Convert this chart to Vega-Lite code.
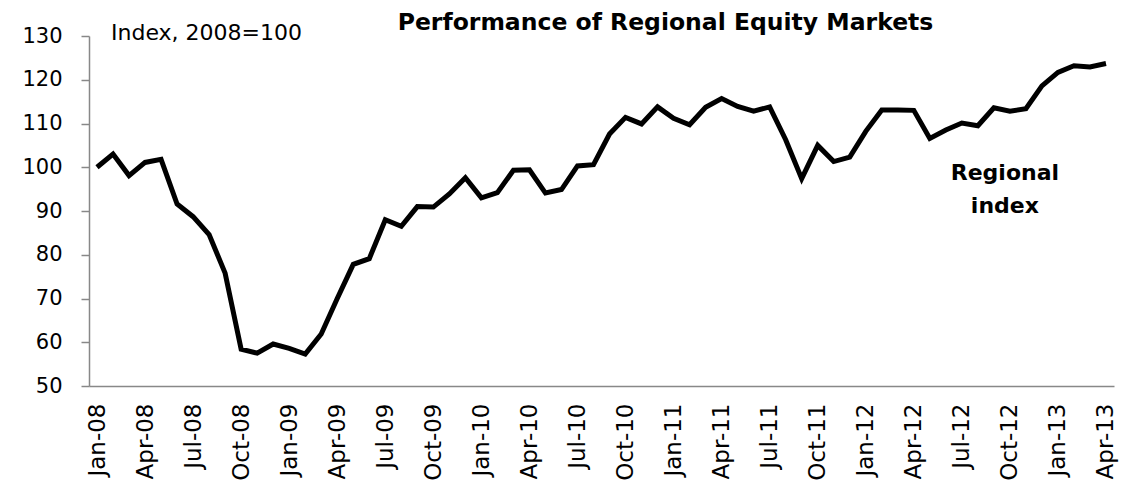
{
  "$schema": "https://vega.github.io/schema/vega-lite/v6.json",
  "width": 1025,
  "height": 350,
  "autosize": {"type": "none"},
  "padding": {"left": 89, "top": 36, "right": 21, "bottom": 101},
  "background": "white",
  "config": {
    "view": {"stroke": null},
    "font": "DejaVu Sans",
    "axis": {
      "labelFont": "DejaVu Sans",
      "labelFontSize": 21,
      "labelColor": "black",
      "domainColor": "#888888",
      "domainWidth": 1.5,
      "tickColor": "#888888",
      "tickWidth": 1.5,
      "grid": false,
      "title": null
    }
  },
  "title": {
    "text": "Performance of Regional Equity Markets",
    "anchor": "middle",
    "dx": 64,
    "dy": 12,
    "offset": 0,
    "font": "DejaVu Sans",
    "fontSize": 23.5,
    "fontWeight": "bold",
    "color": "black"
  },
  "data": {
    "values": [
      {"month": "Jan-08", "index": 100.0},
      {"month": "Feb-08", "index": 103.0},
      {"month": "Mar-08", "index": 98.1},
      {"month": "Apr-08", "index": 101.1},
      {"month": "May-08", "index": 101.8},
      {"month": "Jun-08", "index": 91.6},
      {"month": "Jul-08", "index": 88.7},
      {"month": "Aug-08", "index": 84.6},
      {"month": "Sep-08", "index": 75.8},
      {"month": "Oct-08", "index": 58.4},
      {"month": "Nov-08", "index": 57.5},
      {"month": "Dec-08", "index": 59.6},
      {"month": "Jan-09", "index": 58.6},
      {"month": "Feb-09", "index": 57.3},
      {"month": "Mar-09", "index": 61.9},
      {"month": "Apr-09", "index": 70.0},
      {"month": "May-09", "index": 77.8},
      {"month": "Jun-09", "index": 79.1},
      {"month": "Jul-09", "index": 88.0},
      {"month": "Aug-09", "index": 86.5},
      {"month": "Sep-09", "index": 91.0},
      {"month": "Oct-09", "index": 90.9},
      {"month": "Nov-09", "index": 93.9},
      {"month": "Dec-09", "index": 97.6},
      {"month": "Jan-10", "index": 93.0},
      {"month": "Feb-10", "index": 94.2},
      {"month": "Mar-10", "index": 99.3},
      {"month": "Apr-10", "index": 99.4},
      {"month": "May-10", "index": 94.1},
      {"month": "Jun-10", "index": 94.9},
      {"month": "Jul-10", "index": 100.3},
      {"month": "Aug-10", "index": 100.6},
      {"month": "Sep-10", "index": 107.6},
      {"month": "Oct-10", "index": 111.4},
      {"month": "Nov-10", "index": 109.9},
      {"month": "Dec-10", "index": 113.8},
      {"month": "Jan-11", "index": 111.2},
      {"month": "Feb-11", "index": 109.7},
      {"month": "Mar-11", "index": 113.7},
      {"month": "Apr-11", "index": 115.7},
      {"month": "May-11", "index": 113.9},
      {"month": "Jun-11", "index": 112.8},
      {"month": "Jul-11", "index": 113.8},
      {"month": "Aug-11", "index": 106.3},
      {"month": "Sep-11", "index": 97.4},
      {"month": "Oct-11", "index": 105.0},
      {"month": "Nov-11", "index": 101.3},
      {"month": "Dec-11", "index": 102.3},
      {"month": "Jan-12", "index": 108.2},
      {"month": "Feb-12", "index": 113.1},
      {"month": "Mar-12", "index": 113.1},
      {"month": "Apr-12", "index": 113.0},
      {"month": "May-12", "index": 106.6},
      {"month": "Jun-12", "index": 108.5},
      {"month": "Jul-12", "index": 110.1},
      {"month": "Aug-12", "index": 109.5},
      {"month": "Sep-12", "index": 113.6},
      {"month": "Oct-12", "index": 112.8},
      {"month": "Nov-12", "index": 113.4},
      {"month": "Dec-12", "index": 118.6},
      {"month": "Jan-13", "index": 121.7},
      {"month": "Feb-13", "index": 123.2},
      {"month": "Mar-13", "index": 122.9},
      {"month": "Apr-13", "index": 123.7}
    ]
  },
  "layer": [
    {
      "mark": {"type": "line", "color": "black", "strokeWidth": 5, "strokeJoin": "miter"},
      "encoding": {
        "x": {
          "field": "month",
          "type": "ordinal",
          "sort": null,
          "scale": {"type": "point", "padding": 0.5},
          "axis": {
            "values": ["Jan-08","Apr-08","Jul-08","Oct-08","Jan-09","Apr-09","Jul-09","Oct-09","Jan-10","Apr-10","Jul-10","Oct-10","Jan-11","Apr-11","Jul-11","Oct-11","Jan-12","Apr-12","Jul-12","Oct-12","Jan-13","Apr-13"],
            "labelAngle": -90,
            "labelFontSize": 23,
            "ticks": false,
            "labelPadding": 17
          }
        },
        "y": {
          "field": "index",
          "type": "quantitative",
          "scale": {"domain": [50, 130], "nice": false, "zero": false},
          "axis": {
            "values": [50, 60, 70, 80, 90, 100, 110, 120, 130],
            "tickSize": 8,
            "labelPadding": 19
          }
        }
      }
    },
    {
      "data": {"values": [{"label": "Index, 2008=100"}]},
      "mark": {"type": "text", "align": "left", "baseline": "alphabetic", "fontSize": 22, "font": "DejaVu Sans", "color": "black", "dx": 14, "dy": 4},
      "encoding": {
        "x": {"datum": "Jan-08"},
        "y": {"datum": 130},
        "text": {"field": "label"}
      }
    },
    {
      "data": {"values": [{"label": ["Regional", "index"]}]},
      "mark": {"type": "text", "align": "center", "baseline": "alphabetic", "fontSize": 22, "fontWeight": "bold", "font": "DejaVu Sans", "color": "black", "dx": -5, "lineHeight": 33},
      "encoding": {
        "x": {"datum": "Oct-12"},
        "y": {"datum": 97.1},
        "text": {"field": "label"}
      }
    }
  ]
}
